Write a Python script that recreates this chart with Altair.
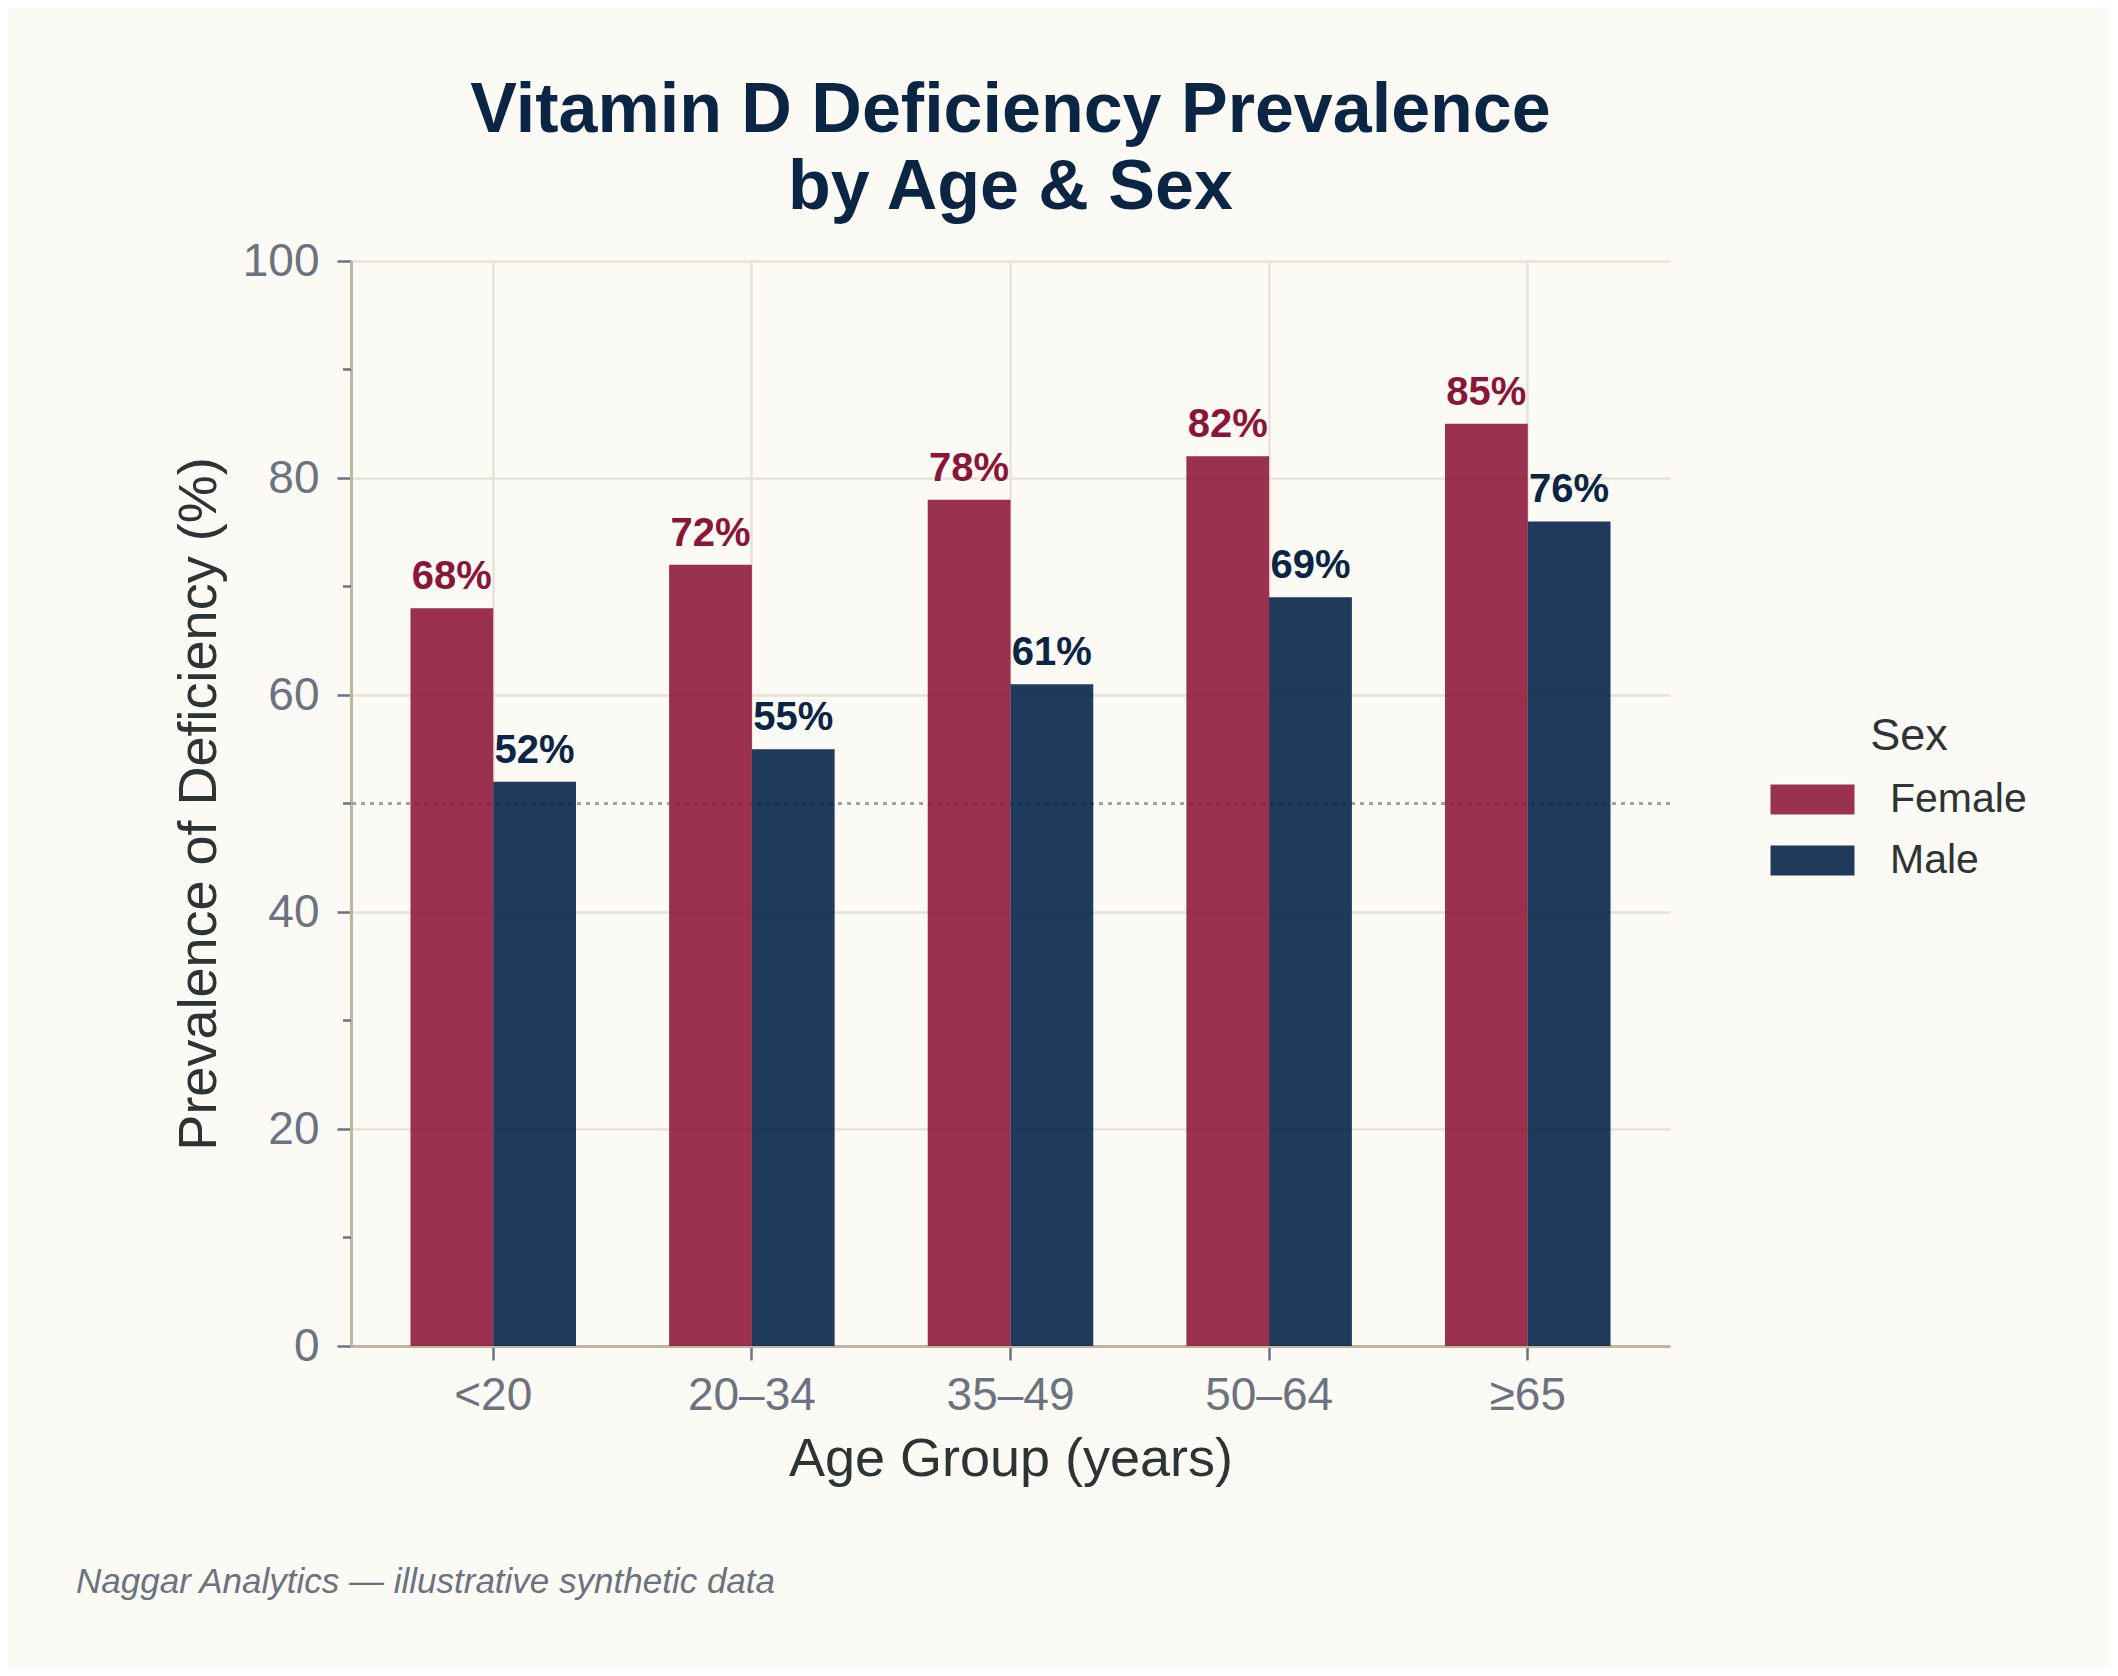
import altair as alt
import pandas as pd

age_groups = ["<20", "20–34", "35–49", "50–64", "≥65"]
female = [68, 72, 78, 82, 85]
male = [52, 55, 61, 69, 76]
sexes = ["Female", "Male"]
minor_ticks = [10, 30, 50, 70, 90]
reference_level = [50]
footer_text = ["Naggar Analytics — illustrative synthetic data"]

rows = []
for i, g in enumerate(age_groups):
    rows.append({"age": g, "sex": "Female", "value": female[i], "label": f"{female[i]}%"})
    rows.append({"age": g, "sex": "Male", "value": male[i], "label": f"{male[i]}%"})
df = pd.DataFrame(rows)
minor_df = pd.DataFrame({"value": minor_ticks})
ref_df = pd.DataFrame({"value": reference_level})
foot_df = pd.DataFrame({"t": footer_text})

FONT = "Liberation Sans"
W, H = 1319, 1085

y_scale = alt.Scale(domain=[0, 100], nice=False, zero=True)
y_axis = alt.Axis(
    values=[0, 20, 40, 60, 80, 100],
    title="Prevalence of Deficiency (%)",
    titleFontSize=54, titleFontWeight="normal", titleColor="#2d3436",
    titleX=-136, titleY=H / 2, titleBaseline="alphabetic", titleAngle=-90,
    labelFontSize=46, labelColor="#6b7280", labelPadding=18,
    tickSize=14, tickWidth=2.5, tickColor="#6b7280",
    domainColor="#bfb49f", domainWidth=3,
    grid=True, gridColor="#e8e2d6", gridWidth=2.5,
)
x_enc = alt.X(
    "age:N", sort=age_groups,
    scale=alt.Scale(paddingInner=0.36, paddingOuter=0.23),
    axis=alt.Axis(
        title="Age Group (years)", titleFontSize=54, titleFontWeight="normal",
        titleColor="#2d3436", titleY=129, titleBaseline="alphabetic",
        labelAngle=0, labelFontSize=46, labelColor="#6b7280", labelPadding=13,
        tickSize=14, tickWidth=2.5, tickColor="#6b7280",
        domainColor="#bfb49f", domainWidth=3,
        grid=True, gridColor="#e8e2d6", gridWidth=2.5,
    ),
)
xoff = alt.XOffset("sex:N", sort=sexes, scale=alt.Scale(paddingInner=0, paddingOuter=0))

ref = alt.Chart(ref_df).mark_rule(color="#9ea3aa", strokeWidth=3, strokeDash=[4, 5]).encode(
    y=alt.Y("value:Q", scale=y_scale, axis=y_axis)
)

minor = alt.Chart(minor_df).mark_rule(color="#6b7280", strokeWidth=2.5).encode(
    y=alt.Y("value:Q", scale=y_scale, axis=y_axis),
    x=alt.value(-8), x2=alt.value(0),
)

bars = alt.Chart(df).mark_bar(opacity=0.88).encode(
    x=x_enc,
    xOffset=xoff,
    y=alt.Y("value:Q", scale=y_scale, axis=y_axis),
    color=alt.Color(
        "sex:N", sort=sexes,
        scale=alt.Scale(domain=sexes, range=["#8b1538", "#001f45"]),
        legend=alt.Legend(
            title="Sex", orient="none", legendX=1441, legendY=453,
            titleFontSize=45, titleFontWeight="normal", titleColor="#2d3436",
            titleAnchor="middle", titlePadding=20,
            labelFontSize=41, labelColor="#2d3436", labelOffset=57,
            symbolType="M-2.8,-1L2.8,-1L2.8,1L-2.8,1Z", symbolSize=900,
            symbolStrokeWidth=0, symbolOpacity=0.88, rowPadding=19,
        ),
    ),
)

labels = alt.Chart(df).mark_text(
    fontSize=40, fontWeight="bold", baseline="alphabetic", dy=-19, font=FONT
).encode(
    x=x_enc,
    xOffset=xoff,
    y=alt.Y("value:Q", scale=y_scale, axis=y_axis),
    text="label:N",
    color=alt.condition(alt.datum.sex == "Female", alt.value("#8b1538"), alt.value("#0b2545")),
)

footer = alt.Chart(foot_df).mark_text(
    fontSize=35, fontStyle="italic", color="#6b7280", align="left",
    baseline="alphabetic", font=FONT
).encode(
    text="t:N", x=alt.value(-275), y=alt.value(1332)
)

chart = alt.layer(ref, minor, bars, labels, footer).properties(
    width=W, height=H,
    background="#fbfaf5",
    padding={"left": 343, "top": 253, "right": 440, "bottom": 322},
    autosize=alt.AutoSizeParams(type="none"),
    title=alt.TitleParams(
        text=["Vitamin D Deficiency Prevalence", "by Age & Sex"],
        fontSize=70, fontWeight="bold", color="#0b2545", font=FONT,
        lineHeight=77, anchor="middle", offset=14,
    ),
).configure(font=FONT).configure_view(stroke=None)

chart.save("out.html", embed_options={"renderer": "svg", "actions": False})
